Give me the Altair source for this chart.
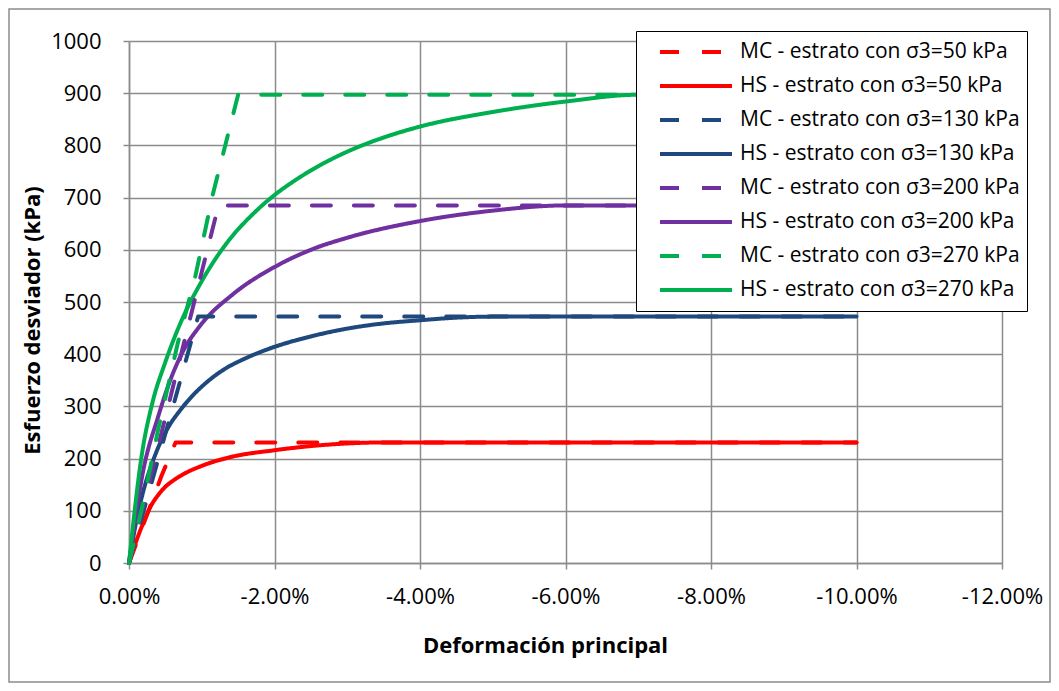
import altair as alt
import pandas as pd

# ---- data ----
series_names = [
    "MC - estrato con σ3=50 kPa",
    "HS - estrato con σ3=50 kPa",
    "MC - estrato con σ3=130 kPa",
    "HS - estrato con σ3=130 kPa",
    "MC - estrato con σ3=200 kPa",
    "HS - estrato con σ3=200 kPa",
    "MC - estrato con σ3=270 kPa",
    "HS - estrato con σ3=270 kPa",
]
series_colors = ["#FF0000", "#FF0000", "#1F497D", "#1F497D",
                 "#7030A0", "#7030A0", "#00B050", "#00B050"]

mc50_x = [0, -0.0045, -0.0064, -0.10]
mc50_y = [0, 168, 231, 231]
hs50_x = [0, -0.001, -0.002, -0.003, -0.004, -0.005, -0.0063, -0.008, -0.010, -0.014, -0.020, -0.025, -0.030, -0.035, -0.10]
hs50_y = [0, 42, 78, 109, 130, 146, 160, 174, 186, 203, 216, 224, 229, 231, 231]

mc130_x = [0, -0.0066, -0.0095, -0.10]
mc130_y = [0, 327, 472, 472]
hs130_x = [0, -0.001, -0.0019, -0.0036, -0.0054, -0.0070, -0.0087, -0.0110, -0.0132, -0.0160, -0.0200, -0.0250, -0.0304, -0.0350, -0.0400, -0.0450, -0.0500, -0.10]
hs130_y = [0, 80, 134, 207, 260, 292, 320, 350, 372, 392, 414, 434, 450, 459, 465, 470, 472, 472]

mc200_x = [0, -0.0088, -0.0123, -0.10]
mc200_y = [0, 491, 685, 685]
hs200_x = [0, -0.0020, -0.0040, -0.0054, -0.0074, -0.0098, -0.0143, -0.0200, -0.0250, -0.0300, -0.0400, -0.0500, -0.0600, -0.10]
hs200_y = [0, 180, 280, 340, 405, 455, 515, 567, 600, 623, 655, 675, 685, 685]

mc270_x = [0, -0.0018, -0.0040, -0.0067, -0.0091, -0.0115, -0.0150, -0.10]
mc270_y = [0, 107, 255, 421, 548, 705, 897, 897]
hs270_x = [0, -0.0018, -0.0032, -0.0050, -0.0074, -0.0098, -0.0120, -0.0143, -0.0170, -0.0200, -0.0225, -0.0250, -0.0300, -0.0350, -0.0400, -0.0500, -0.0600, -0.0700, -0.10]
hs270_y = [0, 211, 306, 385, 470, 535, 585, 628, 668, 705, 730, 752, 788, 815, 836, 864, 884, 897, 897]

x_ticks = [0, -0.02, -0.04, -0.06, -0.08, -0.10, -0.12]
y_ticks = [0, 100, 200, 300, 400, 500, 600, 700, 800, 900, 1000]

# ---- build tables ----
def frame(name, xs, ys):
    return pd.DataFrame({"serie": name, "def": xs, "esf": ys, "orden": range(len(xs))})

mc = pd.concat([
    frame(series_names[0], mc50_x, mc50_y),
    frame(series_names[2], mc130_x, mc130_y),
    frame(series_names[4], mc200_x, mc200_y),
    frame(series_names[6], mc270_x, mc270_y),
])
hs = pd.concat([
    frame(series_names[1], hs50_x, hs50_y),
    frame(series_names[3], hs130_x, hs130_y),
    frame(series_names[5], hs200_x, hs200_y),
    frame(series_names[7], hs270_x, hs270_y),
])

dash_range = [[19, 23], [1, 0]] * 4
FONT = "Open Sans"
GRID = "#8C8C8C"

common_axis = dict(
    titleFontSize=22, titleFontWeight="bold", titleFont=FONT, titleColor="#000",
    labelFontSize=22, labelFont=FONT, labelColor="#000",
    tickSize=6, tickColor=GRID, tickWidth=1.5,
    domainColor=GRID, domainWidth=1.5,
    gridColor=GRID, gridWidth=1.5,
)

x_enc = alt.X(
    "def:Q",
    scale=alt.Scale(domain=[-0.12, 0], reverse=True, nice=False, zero=False),
    axis=alt.Axis(
        values=x_ticks,
        labelExpr="replace(format(datum.value, '.2%'), '\u2212', '-')",
        labelFlush=False, labelPadding=17,
        title="Deformación principal",
        titleX=416, titleY=82, titleBaseline="middle", titleAlign="center",
        **common_axis,
    ),
)
y_enc = alt.Y(
    "esf:Q",
    scale=alt.Scale(domain=[0, 1000], nice=False),
    axis=alt.Axis(
        values=y_ticks, format="d", labelPadding=22, labelFlush=False,
        title="Esfuerzo desviador (kPa)",
        titleX=-97, titleY=279, titleBaseline="middle", titleAlign="center", titleAngle=-90,
        **common_axis,
    ),
)

legend_cfg = dict(
    title=None, orient="none", legendX=507, legendY=-10,
    symbolType="stroke", symbolSize=5184, symbolStrokeWidth=4,
    clipHeight=28, rowPadding=6, padding=7, symbolOffset=15,
    labelFontSize=21, labelFont=FONT, labelColor="#000", labelOffset=6,
    labelLimit=400,
    fillColor="white", strokeColor="#000",
    zindex=1,
)
color_enc = alt.Color(
    "serie:N",
    scale=alt.Scale(domain=series_names, range=series_colors),
    legend=alt.Legend(**legend_cfg),
)
dash_enc = alt.StrokeDash(
    "serie:N",
    scale=alt.Scale(domain=series_names, range=dash_range),
    legend=alt.Legend(**legend_cfg),
)

mc_layer = alt.Chart(mc).mark_line(strokeWidth=4, strokeCap="round", strokeJoin="round").encode(
    x=x_enc, y=y_enc, color=color_enc, strokeDash=dash_enc, order="orden:Q", detail="serie:N"
)
hs_layer = alt.Chart(hs).mark_line(strokeWidth=4, strokeCap="round", strokeJoin="round",
                                   interpolate="monotone").encode(
    x=x_enc, y=y_enc, color=color_enc, strokeDash=dash_enc, order="orden:Q", detail="serie:N"
)

frame_df = pd.DataFrame({"k": [0]})
outer = alt.Chart(frame_df).mark_rect(fill=None, stroke="#8C8C8C", strokeWidth=1.5).encode(
    x=alt.value(-120), x2=alt.value(921), y=alt.value(-32), y2=alt.value(641)
)

chart = alt.layer(outer, hs_layer, mc_layer).properties(
    width=873, height=522,
    autosize=alt.AutoSizeParams(type="none"),
    padding={"left": 121, "top": 33, "right": 49, "bottom": 120},
).configure_view(stroke=None).configure(background="white")

chart.save("out.html", embed_options={"renderer": "svg", "actions": False})
